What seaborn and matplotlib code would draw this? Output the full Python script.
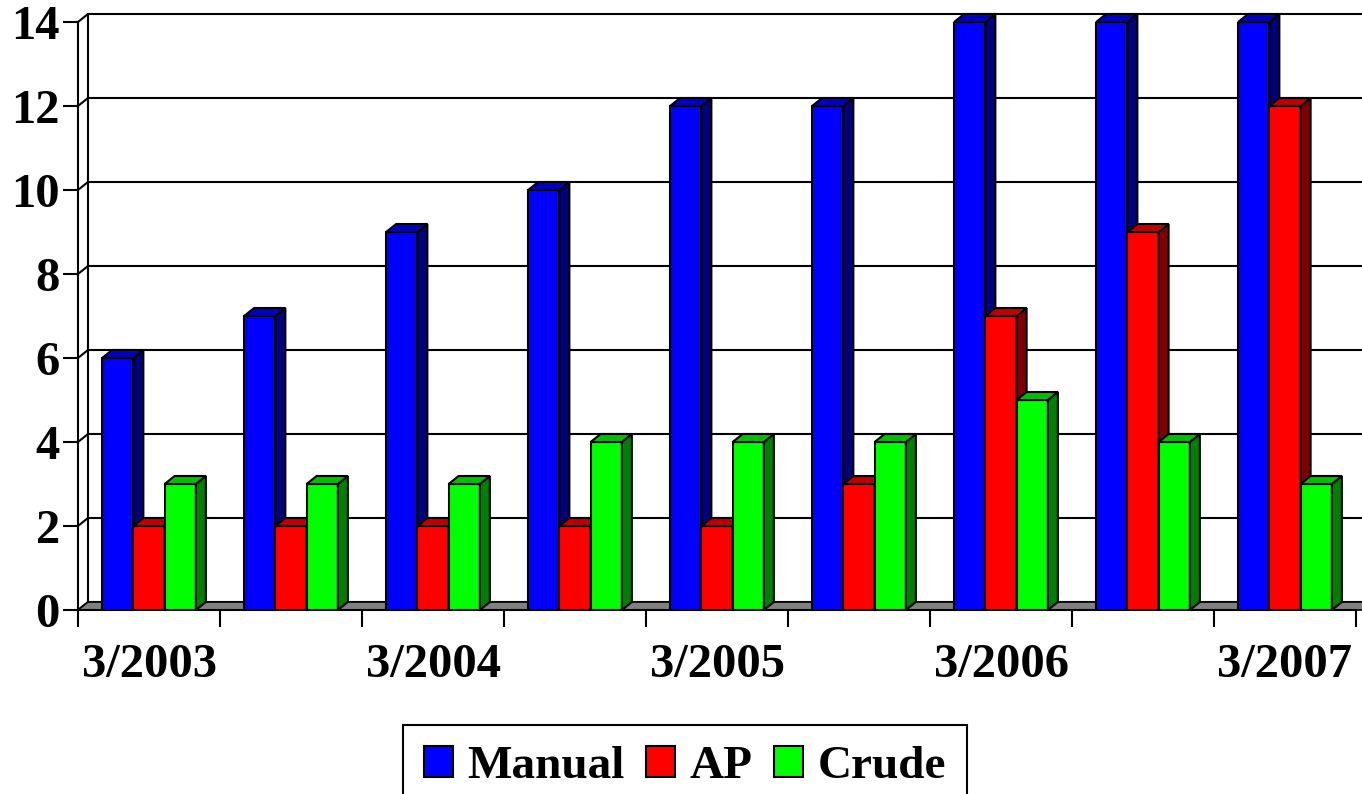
import matplotlib
matplotlib.use("Agg")
import matplotlib.pyplot as plt
import seaborn as sns
import pandas as pd
from matplotlib.patches import Polygon, Patch

# ---- data ----
categories = ["3/2003", "9/2003", "3/2004", "9/2004", "3/2005",
              "9/2005", "3/2006", "9/2006", "3/2007"]
shown_labels = ["3/2003", "", "3/2004", "", "3/2005", "", "3/2006", "", "3/2007"]
series = ["Manual", "AP", "Crude"]
manual = [6, 7, 9, 10, 12, 12, 14, 14, 14]
ap = [2, 2, 2, 2, 2, 3, 7, 9, 12]
crude = [3, 3, 3, 4, 4, 4, 5, 4, 3]
yticks = [0, 2, 4, 6, 8, 10, 12, 14]

front_colors = {"Manual": "#0000ff", "AP": "#ff0000", "Crude": "#00ff00"}
top_colors = {"Manual": "#0000c0", "AP": "#c00000", "Crude": "#00c000"}
side_colors = {"Manual": "#000080", "AP": "#800000", "Crude": "#008000"}

df = pd.DataFrame({
    "period": categories * 3,
    "series": [s for s in series for _ in categories],
    "value": manual + ap + crude,
})

sns.set_theme(style="white")
plt.rcParams['font.family'] = ['Liberation Serif', 'DejaVu Serif']
plt.rcParams['font.weight'] = 'bold'
plt.rcParams['text.color'] = 'black'
plt.rcParams['xtick.color'] = 'black'
plt.rcParams['ytick.color'] = 'black'
plt.rcParams['xtick.labelcolor'] = 'black'
plt.rcParams['ytick.labelcolor'] = 'black'

W, H = 1362, 794
fig = plt.figure(figsize=(W / 100, H / 100), dpi=100)
left_px, right_px, y0_px, ytop_px = 78, 1356, 610, 22
ax = fig.add_axes([left_px / W, 1 - y0_px / H,
                   (right_px - left_px) / W, (y0_px - ytop_px) / H])

sns.barplot(data=df, x="period", y="value", hue="series", order=categories,
            hue_order=series, palette=front_colors, saturation=1, width=0.66,
            edgecolor="black", linewidth=1.5, legend=False, ax=ax)

ax.set_xlim(-0.5, len(categories) - 0.5)
ax.set_ylim(0, 14)

# depth offsets in data units
grp_px = (right_px - left_px) / len(categories)
unit_px = (y0_px - ytop_px) / 14
dx = 10 / grp_px
dy = 8 / unit_px

def series_of(patch):
    r, g, b = patch.get_facecolor()[:3]
    if b > 0.5:
        return "Manual"
    if r > 0.5:
        return "AP"
    return "Crude"

bars = sorted([p for p in ax.patches if p.get_height() > 0], key=lambda p: p.get_x())
for i, p in enumerate(bars):
    s = series_of(p)
    x0, w, h = p.get_x(), p.get_width(), p.get_height()
    z = 3 + i * 0.01
    p.set_zorder(z)
    side = Polygon([(x0 + w, 0), (x0 + w + dx, dy), (x0 + w + dx, h + dy), (x0 + w, h)],
                   closed=True, facecolor=side_colors[s], edgecolor="black",
                   linewidth=1.5, zorder=z + 0.001, clip_on=False)
    top = Polygon([(x0, h), (x0 + dx, h + dy), (x0 + w + dx, h + dy), (x0 + w, h)],
                  closed=True, facecolor=top_colors[s], edgecolor="black",
                  linewidth=1.5, zorder=z + 0.002, clip_on=False)
    ax.add_patch(side)
    ax.add_patch(top)

# back wall gridlines and side-wall diagonals
xl, xr = -0.5, len(categories) - 0.5
for yv in yticks:
    ax.plot([xl + dx, xr + dx + 1], [yv + dy, yv + dy], color="black", lw=1.5,
            zorder=1, clip_on=False)
    ax.plot([xl, xl + dx], [yv, yv + dy], color="black", lw=1.5, zorder=1, clip_on=False)
ax.plot([xl + dx, xl + dx], [dy, 14 + dy], color="black", lw=1.5, zorder=1, clip_on=False)

# floor
floor = Polygon([(xl, 0), (xr + 1, 0), (xr + 1 + dx, dy), (xl + dx, dy)], closed=True,
                facecolor="#808080", edgecolor="black", linewidth=1.2, zorder=2,
                clip_on=False)
ax.add_patch(floor)

for side_name in ["top", "right"]:
    ax.spines[side_name].set_visible(False)
for side_name in ["left", "bottom"]:
    ax.spines[side_name].set_color("black")
    ax.spines[side_name].set_linewidth(1.5)
    ax.spines[side_name].set_zorder(2.5)

ax.set_xlabel("")
ax.set_ylabel("")
ax.set_yticks(yticks)
ax.set_yticklabels([str(v) for v in yticks], fontsize=35, fontweight="bold", color="black")
ax.tick_params(axis="y", direction="out", length=11, width=1.5, color="black", pad=2, left=True)

ax.set_xticks(range(len(categories)))
ax.set_xticklabels(shown_labels, fontsize=35, fontweight="bold", color="black")
ax.set_xticks([i - 0.5 for i in range(len(categories) + 1)], minor=True)
ax.tick_params(axis="x", which="major", length=0, pad=24)
ax.tick_params(axis="x", which="minor", direction="out", length=12, width=1.5,
               color="black", bottom=True)
ax.grid(False)

handles = [Patch(facecolor=front_colors[s], edgecolor="black", linewidth=1.5, label=s)
           for s in series]
leg = fig.legend(handles=handles, loc="upper center", bbox_to_anchor=(685 / W, 1 - 725 / H),
                 ncol=3, frameon=True, fancybox=False, framealpha=1,
                 prop={"size": 34, "weight": "bold"},
                 handlelength=0.62, handleheight=0.62, handletextpad=0.3,
                 columnspacing=0.45, borderpad=0.45, borderaxespad=0)
leg.get_frame().set_edgecolor("black")
leg.get_frame().set_linewidth(1.5)
for t in leg.get_texts():
    t.set_color("black")

fig.savefig("out.png", dpi=100)
